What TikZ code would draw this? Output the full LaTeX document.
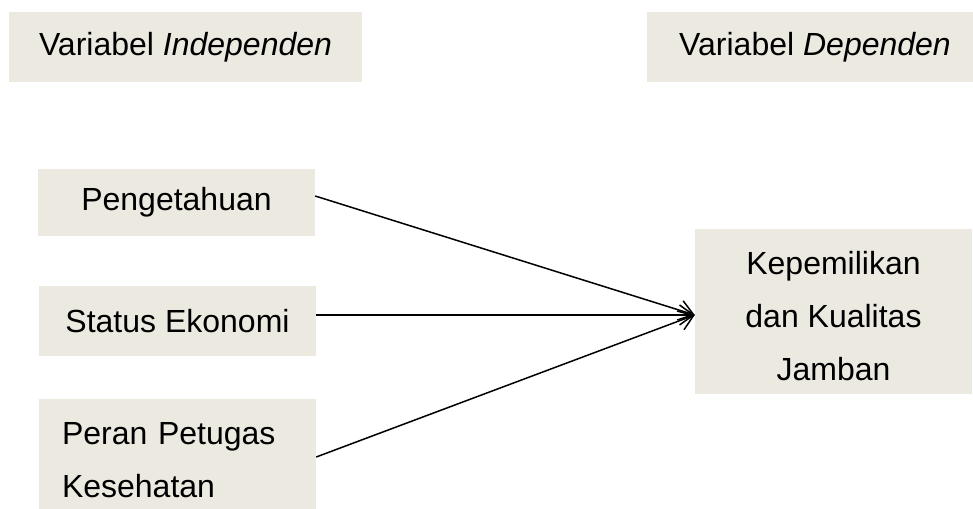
\documentclass[tikz,border=0pt]{standalone}
\usepackage{fontspec}
\setmainfont{Liberation Sans}
\usetikzlibrary{arrows.meta}
\definecolor{boxbg}{HTML}{ECEAE0}
\tikzset{
  box/.style={fill=boxbg, inner sep=0pt, align=center, font=\fontsize{32}{53}\selectfont},
  txt/.style={inner sep=0pt, align=center, font=\fontsize{32}{53}\selectfont},
  arr/.style={-{Straight Barb[length=14pt,width=20pt,line width=1.5pt]}, line width=1.5pt, black}
}
\begin{document}
\begin{tikzpicture}[x=1pt,y=-1pt]
\useasboundingbox (0,0) rectangle (973,508);
\node[box, minimum width=353pt, minimum height=70pt] (ind) at (185.5,47) {Variabel \textit{Independen}};
\node[box, minimum width=336pt, minimum height=70pt] (dep) at (815,47) {Variabel \textit{Dependen}};
\node[box, minimum width=277pt, minimum height=67pt] (pen) at (176.5,202.5) {Pengetahuan};
\node[box, minimum width=277pt, minimum height=70pt] (sta) at (177.5,321) {Status Ekonomi};
\node[box, minimum width=277pt, minimum height=122pt, text width=231pt, align=left] (per) at (177.5,460) {Peran Petugas\\Kesehatan};
\node[box, minimum width=277pt, minimum height=165pt] (kep) at (833.5,311.5) {};
\node[txt] (keptext) at (833.5,316.5) {Kepemilikan\\dan Kualitas\\Jamban};
\coordinate (tip) at ([yshift=-3.5pt]kep.west);
\draw[arr] ([yshift=6.5pt]pen.east) -- (tip);
\draw[arr] ([yshift=6pt]sta.east) -- (tip);
\draw[arr] ([yshift=3pt]per.east) -- (tip);
\end{tikzpicture}
\end{document}
